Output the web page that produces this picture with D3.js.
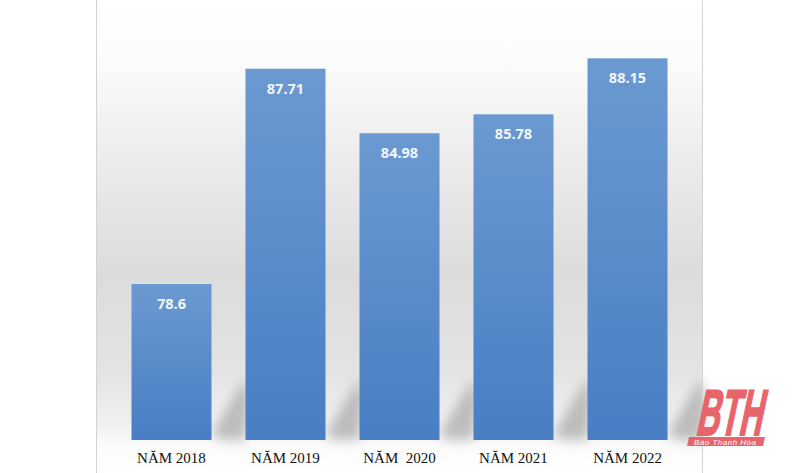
<!DOCTYPE html>
<html>
<head>
<meta charset="utf-8">
<script src="https://cdn.jsdelivr.net/npm/d3@7"></script>
<style>
html,body{margin:0;padding:0;background:#fff;}
svg{display:block;}
</style>
</head>
<body>
<svg id="chart" width="800" height="473"></svg>
<script>
const categories = ["NĂM 2018", "NĂM 2019", "NĂM  2020", "NĂM 2021", "NĂM 2022"];
const values = [78.6, 87.71, 84.98, 85.78, 88.15];
const valueLabels = ["78.6", "87.71", "84.98", "85.78", "88.15"];

const W = 800, H = 473;
const svg = d3.select("#chart");
const defs = svg.append("defs");

const bg = defs.append("linearGradient").attr("id","bg").attr("x1",0).attr("y1",0).attr("x2",0).attr("y2",1);
[[0,"#ffffff"],[0.12,"#fcfcfc"],[0.35,"#ebebeb"],[0.58,"#dcdcdc"],[0.78,"#e3e3e3"],[0.9,"#f1f1f1"],[0.94,"#fbfbfb"],[1,"#ffffff"]]
  .forEach(([o,c])=>bg.append("stop").attr("offset",o).attr("stop-color",c));

const barG = defs.append("linearGradient").attr("id","barG").attr("x1",0).attr("y1",0).attr("x2",0).attr("y2",1);
[[0,"#6b99d1"],[1,"#497ec4"]].forEach(([o,c])=>barG.append("stop").attr("offset",o).attr("stop-color",c));

const blur = defs.append("filter").attr("id","blur").attr("x","-50%").attr("y","-50%").attr("width","200%").attr("height","200%");
blur.append("feGaussianBlur").attr("stdDeviation",6);

const panelL = 97, panelR = 702;
svg.append("rect").attr("x",panelL).attr("y",0).attr("width",panelR-panelL).attr("height",H).attr("fill","url(#bg)");

const x = d3.scaleBand().domain(categories).range([114.5, 684.5]).paddingInner(0.2982).paddingOuter(0.149);
const y = d3.scaleLinear().domain([72, 90]).range([440, 14.6]);
const base = y(72);

// floor shadows behind bars
const shG = svg.append("g").attr("filter","url(#blur)");
categories.forEach((c,i)=>{
  const x1 = x(c) + x.bandwidth();
  const gap = 34;
  const pts = [[x1, base-6],[x1+gap, base-62],[x1+gap+4, base-40],[x1+gap, base],[x1+8, base]];
  shG.append("polygon").attr("points", pts.map(p=>p.join(",")).join(" "))
    .attr("fill","#999").attr("opacity",0.6);
});

svg.append("line").attr("x1",96.5).attr("x2",96.5).attr("y1",0).attr("y2",H).attr("stroke","#d2d2d2");
svg.append("line").attr("x1",702.5).attr("x2",702.5).attr("y1",0).attr("y2",H).attr("stroke","#d2d2d2");

svg.append("g").selectAll("rect").data(values).join("rect")
  .attr("x",(d,i)=>x(categories[i]))
  .attr("y",d=>y(d))
  .attr("width",x.bandwidth())
  .attr("height",d=>base-y(d))
  .attr("fill","url(#barG)");

svg.append("g").selectAll("text").data(values).join("text")
  .attr("x",(d,i)=>x(categories[i])+x.bandwidth()/2)
  .attr("y",d=>y(d)+25)
  .attr("text-anchor","middle")
  .attr("font-family","'Open Sans', sans-serif")
  .attr("font-weight","bold")
  .attr("font-size","14.5px")
  .attr("fill","#f2f6fb")
  .text((d,i)=>valueLabels[i]);

svg.append("g").selectAll("text").data(categories).join("text")
  .attr("x",d=>x(d)+x.bandwidth()/2)
  .attr("y",463)
  .attr("text-anchor","middle")
  .attr("font-family","'Liberation Serif', 'Times New Roman', serif")
  .attr("font-size","15px")
  .attr("fill","#111")
  .style("white-space","pre")
  .text(d=>d);

// logo
svg.append("text").attr("x",0).attr("y",0)
  .attr("transform","translate(695,434.5) skewX(-12) scale(1,1.62)")
  .attr("font-family","'Liberation Sans',Arial,sans-serif")
  .attr("font-weight","bold").attr("font-size","40px")
  .attr("textLength",66).attr("lengthAdjust","spacingAndGlyphs")
  .attr("stroke","#e8646b").attr("stroke-width",1.2).attr("stroke-linejoin","miter")
  .attr("fill","#e8646b").text("BTH");
svg.append("polygon").attr("points","689,437 765,437 763,446 687,446").attr("fill","#e8646b");
svg.append("text").attr("x",694).attr("y",444.5)
  .attr("font-family","'Liberation Sans',Arial,sans-serif")
  .attr("font-style","italic").attr("font-size","8px")
  .attr("textLength",62).attr("lengthAdjust","spacing")
  .attr("fill","#ffffff").text("Báo Thanh Hóa");
</script>
</body>
</html>
